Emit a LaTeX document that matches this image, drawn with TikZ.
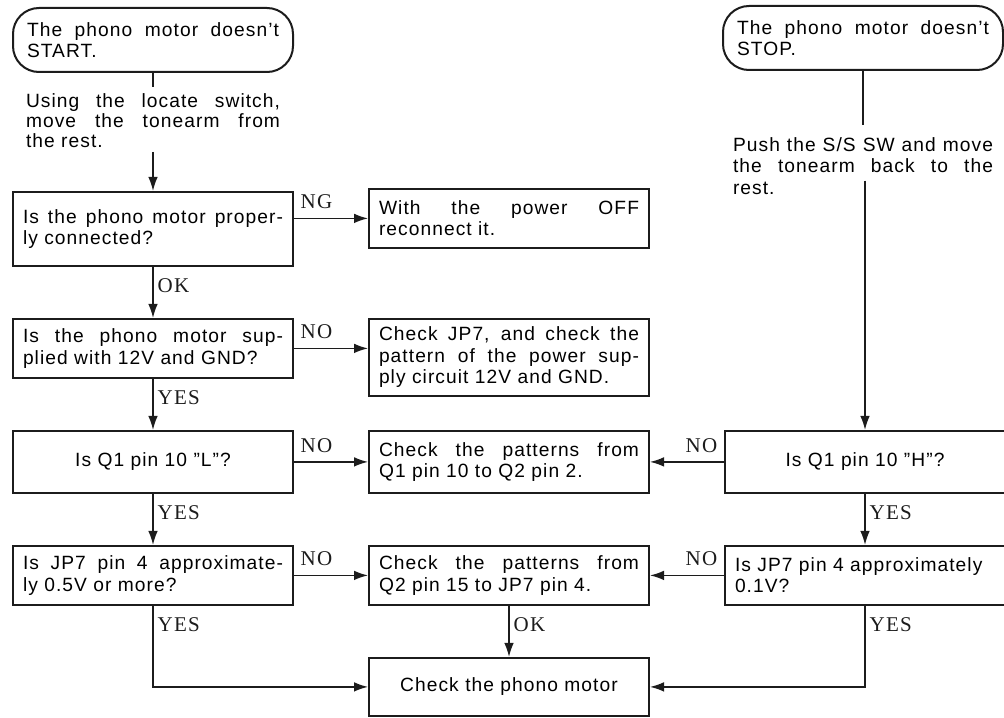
\documentclass[tikz,border=0pt]{standalone}
\usepackage{fontspec}
\setmainfont{Liberation Sans}[LetterSpace=5.5]
\newfontfamily\yesnofamily{Liberation Serif}[LetterSpace=6]
\usepackage{xcolor}
\usetikzlibrary{arrows.meta,positioning}
\definecolor{ink}{HTML}{1C1C1C}
\newcommand{\boxfont}{\fontsize{9.6pt}{10.7pt}\selectfont}
\newcommand{\yesnofont}{\yesnofamily\fontsize{10.5pt}{12pt}\selectfont}

\begin{document}
\begin{tikzpicture}[
  x=0.5pt, y=-0.5pt,
  node distance=25.5pt and 37pt,
  every node/.style={font=\boxfont},
  box/.style={draw=ink,line width=1pt,text width=130pt,inner xsep=5pt,inner ysep=3pt,minimum height=29.5pt,align=justify},
  term/.style={draw=ink,line width=1pt,rounded corners=13pt,text width=126pt,inner xsep=7pt,minimum height=32pt,align=justify},
  note/.style={text width=127pt,inner sep=0pt,align=justify},
  arrow/.style={-{Latex[length=7pt,width=4.8pt]},line width=0.7pt,color=ink},
  link/.style={line width=0.7pt,color=ink},
  tag/.style={font=\yesnofont,inner sep=1.5pt},
  tagr/.style={tag,anchor=south west,xshift=1.5pt,yshift=3pt},
  tagl/.style={tag,anchor=south east,xshift=-1.5pt,yshift=3pt},
  tagd/.style={tag,anchor=north west,xshift=0.5pt,yshift=-4pt}
]
\useasboundingbox (0,0) rectangle (1004,717);
% START branch
\node[term] (s1) at (153,40) {The phono motor doesn't\linebreak START.};
\node[note,below=10pt of s1,font=\fontsize{9.6pt}{10pt}\selectfont] (t1) {Using the locate switch,\linebreak move the tonearm from\linebreak the rest.};
\node[box,below=21.5pt of t1,minimum height=37pt] (b1) {Is the phono motor proper-\linebreak ly connected?};
\node[box,below=of b1] (b2) {Is the phono motor sup-\linebreak plied with 12V and GND?};
\node[box,below=of b2,minimum height=31pt,align=center] (b3) {Is Q1 pin 10 ''L''?};
\node[box,below=of b3] (b4) {Is JP7 pin 4 approximate-\linebreak ly 0.5V or more?};
% checks
\node[box,right=of b1.north east,anchor=north west,yshift=1.5pt] (m1) {With the power OFF\linebreak reconnect it.};
\node[box,right=of b2.north east,anchor=north west,minimum height=38.5pt] (m2) {Check JP7, and check the\linebreak pattern of the power sup-\linebreak ply circuit 12V and GND.};
\node[box,right=of b3,minimum height=31pt] (m3) {Check the patterns from\linebreak Q1 pin 10 to Q2 pin 2.};
\node[box,right=of b4] (m4) {Check the patterns from\linebreak Q2 pin 15 to JP7 pin 4.};
\node[box,below=of m4,minimum height=29pt,align=center] (fin) {Check the phono motor};
% STOP branch
\node[term] (s2) at (863,38) {The phono motor doesn't\linebreak STOP.};
\node[note,below=33pt of s2,text width=130pt] (t2) {Push the S/S SW and move\linebreak the tonearm back to the\linebreak rest.};
\node[box,right=of m3,minimum height=31pt,align=center] (r1) {Is Q1 pin 10 ''H''?};
\node[box,right=of m4,align=left] (r2) {Is JP7 pin 4 approximately\\0.1V?};

\draw[link] (s1.south) -- ([yshift=3pt]s1.south |- t1.north);
\draw[arrow] ([yshift=-2pt]b1.north |- t1.south) -- (b1.north);
\draw[arrow] (b1.east |- m1.west) -- node[pos=0,tagr]{NG} (m1.west);
\draw[arrow] (b1.south) -- node[pos=0,tagd]{OK} (b2.north);
\draw[arrow] (b2.east) -- node[pos=0,tagr]{NO} (b2.east -| m2.west);
\draw[arrow] (b2.south) -- node[pos=0,tagd]{YES} (b3.north);
\draw[arrow] (b3.east) -- node[pos=0,tagr]{NO} (m3.west);
\draw[arrow] (b3.south) -- node[pos=0,tagd]{YES} (b4.north);
\draw[arrow] (b4.east) -- node[pos=0,tagr]{NO} (m4.west);
\draw[arrow] (b4.south) |- node[pos=0,tagd]{YES} (fin.west);
\draw[arrow] (m4.south) -- node[pos=0,tagd]{OK} (m4.south |- fin.north);

\draw[link] (s2.south) -- ([yshift=6pt]s2.south |- t2.north);
\draw[arrow] ([yshift=7pt]r1.north |- t2.south) -- (r1.north);
\draw[arrow] (r1.west) -- node[pos=0,tagl]{NO} (m3.east);
\draw[arrow] (r1.south) -- node[pos=0,tagd]{YES} (r2.north);
\draw[arrow] (r2.west) -- node[pos=0,tagl]{NO} (m4.east);
\draw[arrow] (r2.south) |- node[pos=0,tagd]{YES} (fin.east);
\end{tikzpicture}
\end{document}
